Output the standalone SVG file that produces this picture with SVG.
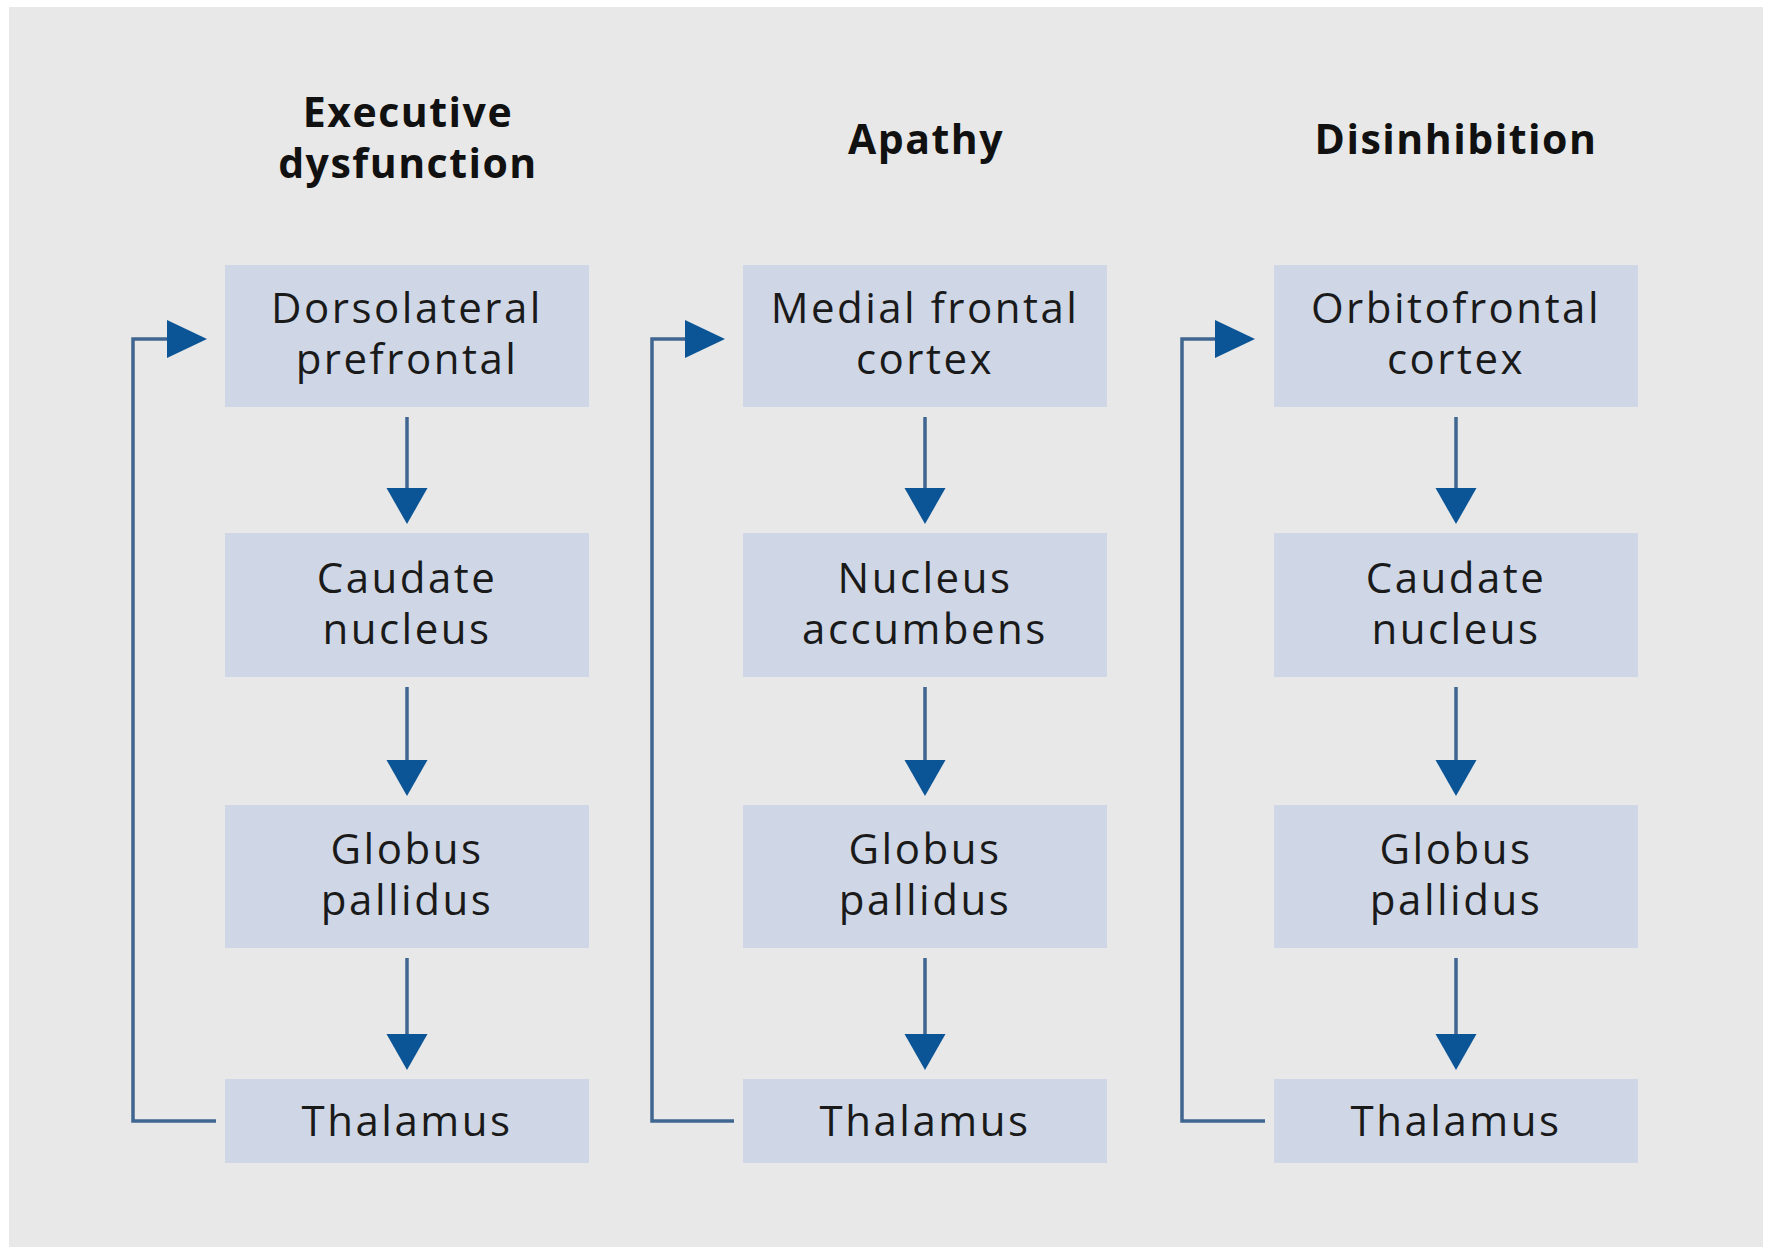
<svg xmlns="http://www.w3.org/2000/svg" width="1767" height="1249" viewBox="0 0 1767 1249">
<defs>
<style>
.bg{fill:#e8e8e8}
.box{fill:#cfd7e6}
.t{font-family:"Open Sans","Noto Sans",sans-serif;font-size:42px;fill:#1a1a1a;text-anchor:middle;letter-spacing:2.5px}
.h{font-family:"Open Sans","Noto Sans",sans-serif;font-size:41px;font-weight:bold;fill:#111;text-anchor:middle;letter-spacing:1.5px}
.ln{stroke:#3f6690;stroke-width:3.5;fill:none}
.hd{fill:#0b5596}
</style>
</defs>
<rect x="0" y="0" width="1767" height="1249" fill="#ffffff"/>
<rect class="bg" x="9" y="7" width="1754" height="1240"/>

<g id="titles">
<text class="h" x="408" y="127">Executive</text>
<text class="h" x="408" y="178">dysfunction</text>
<text class="h" x="926" y="154">Apathy</text>
<text class="h" x="1456" y="154">Disinhibition</text>
</g>

<g id="n1a"><rect class="box" x="225" y="265" width="364" height="142"/><text class="t" x="407" y="323">Dorsolateral</text><text class="t" x="407" y="374">prefrontal</text></g>
<g id="n1b"><rect class="box" x="225" y="533" width="364" height="144"/><text class="t" x="407" y="593">Caudate</text><text class="t" x="407" y="644">nucleus</text></g>
<g id="n1c"><rect class="box" x="225" y="805" width="364" height="143"/><text class="t" x="407" y="864">Globus</text><text class="t" x="407" y="915">pallidus</text></g>
<g id="n1d"><rect class="box" x="225" y="1079" width="364" height="84"/><text class="t" x="407" y="1136">Thalamus</text></g>

<g id="n2a"><rect class="box" x="743" y="265" width="364" height="142"/><text class="t" x="925" y="323">Medial frontal</text><text class="t" x="925" y="374">cortex</text></g>
<g id="n2b"><rect class="box" x="743" y="533" width="364" height="144"/><text class="t" x="925" y="593">Nucleus</text><text class="t" x="925" y="644">accumbens</text></g>
<g id="n2c"><rect class="box" x="743" y="805" width="364" height="143"/><text class="t" x="925" y="864">Globus</text><text class="t" x="925" y="915">pallidus</text></g>
<g id="n2d"><rect class="box" x="743" y="1079" width="364" height="84"/><text class="t" x="925" y="1136">Thalamus</text></g>

<g id="n3a"><rect class="box" x="1274" y="265" width="364" height="142"/><text class="t" x="1456" y="323">Orbitofrontal</text><text class="t" x="1456" y="374">cortex</text></g>
<g id="n3b"><rect class="box" x="1274" y="533" width="364" height="144"/><text class="t" x="1456" y="593">Caudate</text><text class="t" x="1456" y="644">nucleus</text></g>
<g id="n3c"><rect class="box" x="1274" y="805" width="364" height="143"/><text class="t" x="1456" y="864">Globus</text><text class="t" x="1456" y="915">pallidus</text></g>
<g id="n3d"><rect class="box" x="1274" y="1079" width="364" height="84"/><text class="t" x="1456" y="1136">Thalamus</text></g>

<g id="connectors">
<path class="ln" d="M407 417V490M407 687V762M407 958V1036"/>
<polygon class="hd" points="386.5,488 427.5,488 407,524"/>
<polygon class="hd" points="386.5,760 427.5,760 407,796"/>
<polygon class="hd" points="386.5,1034 427.5,1034 407,1070"/>
<path class="ln" d="M216 1121H133V339H169"/>
<polygon class="hd" points="167,320 167,358 207,339"/>

<path class="ln" d="M925 417V490M925 687V762M925 958V1036"/>
<polygon class="hd" points="904.5,488 945.5,488 925,524"/>
<polygon class="hd" points="904.5,760 945.5,760 925,796"/>
<polygon class="hd" points="904.5,1034 945.5,1034 925,1070"/>
<path class="ln" d="M734 1121H652V339H687"/>
<polygon class="hd" points="685,320 685,358 725,339"/>

<path class="ln" d="M1456 417V490M1456 687V762M1456 958V1036"/>
<polygon class="hd" points="1435.5,488 1476.5,488 1456,524"/>
<polygon class="hd" points="1435.5,760 1476.5,760 1456,796"/>
<polygon class="hd" points="1435.5,1034 1476.5,1034 1456,1070"/>
<path class="ln" d="M1265 1121H1182V339H1217"/>
<polygon class="hd" points="1215,320 1215,358 1255,339"/>
</g>
</svg>
